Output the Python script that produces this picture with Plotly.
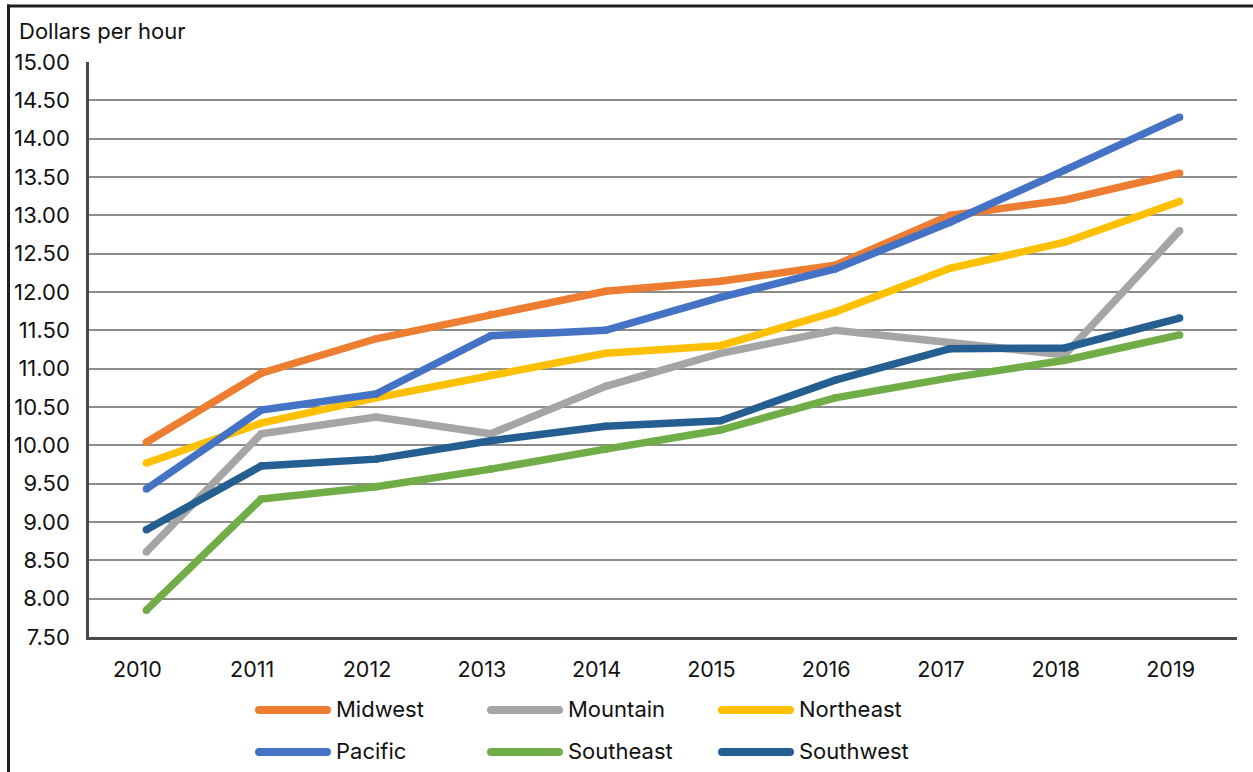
import plotly.graph_objects as go

# Average hourly wage by region, 2010-2019
years = ["2010", "2011", "2012", "2013", "2014", "2015", "2016", "2017", "2018", "2019"]

midwest   = [10.04, 10.94, 11.39, 11.71, 12.01, 12.14, 12.35, 13.00, 13.20, 13.55]
mountain  = [8.61, 10.15, 10.37, 10.15, 10.77, 11.20, 11.50, 11.33, 11.18, 12.80]
northeast = [9.77, 10.29, 10.62, 10.92, 11.20, 11.30, 11.74, 12.31, 12.65, 13.18]
pacific   = [9.43, 10.46, 10.67, 11.43, 11.50, 11.93, 12.30, 12.91, 13.59, 14.28]
southeast = [7.85, 9.30, 9.46, 9.69, 9.95, 10.20, 10.62, 10.88, 11.11, 11.44]
southwest = [8.90, 9.73, 9.82, 10.06, 10.25, 10.32, 10.85, 11.26, 11.27, 11.66]

series_names = ["Midwest", "Mountain", "Northeast", "Pacific", "Southeast", "Southwest"]
series_values = [midwest, mountain, northeast, pacific, southeast, southwest]
series_colors = ["#ED7D31", "#A5A5A5", "#FFC000", "#4472C4", "#70AD47", "#255E91"]

y_ticks = [7.5 + 0.5 * i for i in range(16)]
y_tick_labels = [f"{v:.2f}" for v in y_ticks]

W, H = 1253, 772
ML, MR, MT, MB = 89, 16, 62, 135
PW, PH = W - ML - MR, H - MT - MB
FONT = "Inter, Open Sans, Liberation Sans, sans-serif"
TEXT = "#111111"


def px_x(px):
    return (px - ML) / PW


def px_y(py):
    return (H - MB - py) / PH


fig = go.Figure()
for name, vals, color in zip(series_names, series_values, series_colors):
    fig.add_trace(go.Scatter(
        x=years, y=vals, name=name, mode="lines+markers",
        line=dict(color=color, width=7.5),
        marker=dict(color=color, size=7.5, line=dict(width=0)),
        showlegend=False, hoverinfo="x+y+name",
    ))

shapes = []
annotations = []

# frame around the figure (left and top edges)
shapes.append(dict(type="line", xref="paper", yref="paper",
                   x0=px_x(8.5), x1=px_x(8.5), y0=px_y(4.5), y1=px_y(H + 2),
                   line=dict(color="#231f20", width=3), layer="above"))
shapes.append(dict(type="line", xref="paper", yref="paper",
                   x0=px_x(7), x1=px_x(W + 2), y0=px_y(6), y1=px_y(6),
                   line=dict(color="#231f20", width=3), layer="above"))

# two-row legend drawn with rounded line samples
col_x = [255, 487, 718]
row_y = [710, 752]
sample_len = 76
for i, (name, color) in enumerate(zip(series_names, series_colors)):
    r, c = divmod(i, 3)
    x0, y0 = col_x[c], row_y[r]
    x1 = x0 + sample_len
    shapes.append(dict(type="line", xref="paper", yref="paper",
                       x0=px_x(x0 + 4), x1=px_x(x1 - 4), y0=px_y(y0), y1=px_y(y0),
                       line=dict(color=color, width=8)))
    for cx in (x0 + 4, x1 - 4):
        shapes.append(dict(type="circle", xref="paper", yref="paper",
                           xsizemode="pixel", ysizemode="pixel",
                           xanchor=px_x(cx), yanchor=px_y(y0),
                           x0=-4, x1=4, y0=-4, y1=4,
                           fillcolor=color, line=dict(width=0)))
    annotations.append(dict(text=name, xref="paper", yref="paper",
                            x=px_x(x1 + 3), y=px_y(y0 - 1), xanchor="left", yanchor="middle",
                            showarrow=False, font=dict(family=FONT, size=22, color=TEXT)))

annotations.append(dict(text="Dollars per hour", xref="paper", yref="paper",
                        x=px_x(17), y=px_y(31), xanchor="left", yanchor="middle",
                        showarrow=False, font=dict(family=FONT, size=22, color=TEXT)))

fig.update_layout(
    width=W, height=H,
    margin=dict(l=ML, r=MR, t=MT, b=MB, pad=0),
    paper_bgcolor="white", plot_bgcolor="white",
    font=dict(family=FONT, size=22, color=TEXT),
    shapes=shapes, annotations=annotations,
    xaxis=dict(type="category", range=[-0.5, 9.5], showgrid=False,
               showline=True, linecolor="#4a4a4a", linewidth=2.5,
               ticks="", ticklabelstandoff=11, ticklabelshift=-9,
               tickfont=dict(size=21.5, color=TEXT),
               zeroline=False, fixedrange=True),
    yaxis=dict(range=[7.5, 15.0], tickvals=y_ticks, ticktext=y_tick_labels,
               showgrid=True, gridcolor="#8c8c8c", gridwidth=2,
               showline=True, linecolor="#4a4a4a", linewidth=2.5,
               ticks="", ticklabelstandoff=12, tickfont=dict(size=22, color=TEXT),
               zeroline=False, fixedrange=True),
)

fig.write_html("out.html")
